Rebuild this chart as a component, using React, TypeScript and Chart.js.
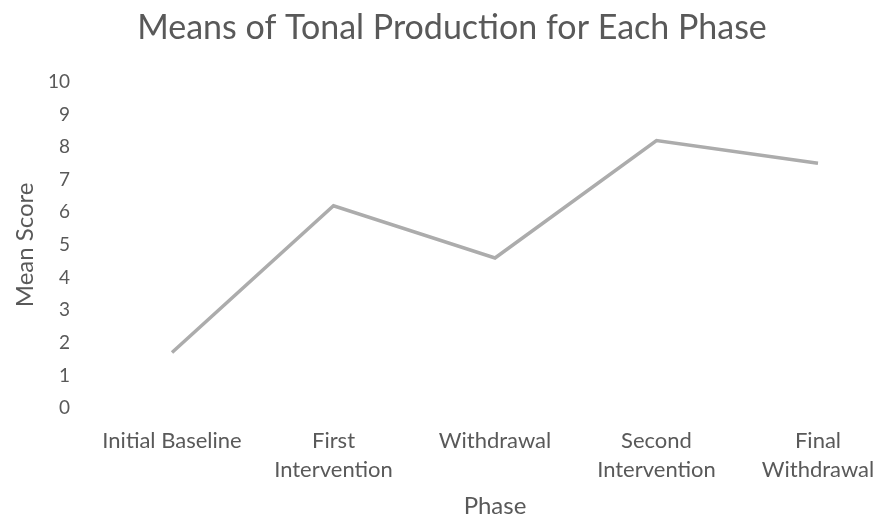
import React, { useEffect, useRef } from "react";
import { Chart, registerables } from "chart.js";

Chart.register(...registerables);

const categories: (string | string[])[] = [
  "Initial Baseline",
  ["First", "Intervention"],
  "Withdrawal",
  ["Second", "Intervention"],
  ["Final", "Withdrawal"],
];
const meanScores = [1.7, 6.2, 4.6, 8.2, 7.5];
const chartTitle = "Means of Tonal Production for Each Phase";
const xTitle = "Phase";
const yTitle = "Mean Score";

const FONT = "Lato, 'Open Sans', sans-serif";
const TEXT = "#595959";

export default function App() {
  const ref = useRef<HTMLCanvasElement>(null);
  useEffect(() => {
    if (!ref.current) return;
    const chart = new Chart(ref.current, {
      type: "line",
      data: {
        labels: categories,
        datasets: [
          {
            data: meanScores,
            borderColor: "#acacac",
            borderWidth: 3.5,
            pointRadius: 0,
            tension: 0,
            fill: false,
          },
        ],
      },
      options: {
        animation: false,
        responsive: false,
        layout: { padding: 0 },
        plugins: {
          legend: { display: false },
          tooltip: { enabled: false },
          title: {
            display: true,
            text: chartTitle,
            color: TEXT,
            font: { family: FONT, size: 34, weight: "normal", lineHeight: 1.2 },
            padding: { top: 8, bottom: 33 },
          },
        },
        scales: {
          x: {
            offset: false,
            grid: { display: false, drawTicks: false },
            border: { display: false },
            ticks: {
              color: TEXT,
              font: { family: FONT, size: 22, lineHeight: 1.32 },
              maxRotation: 0,
              minRotation: 0,
              autoSkip: false,
              padding: 18,
            },
            title: {
              display: true,
              text: xTitle,
              color: TEXT,
              font: { family: FONT, size: 24, lineHeight: 1.2 },
              padding: { top: 0, bottom: 0 },
            },
            afterFit: (s: any) => {
              s.height = 113;
              s.paddingLeft = 0;
              s.paddingRight = 86;
            },
          },
          y: {
            min: 0,
            max: 10,
            grid: { display: false, drawTicks: false },
            border: { display: false },
            ticks: {
              stepSize: 1,
              color: TEXT,
              font: { family: FONT, size: 19 },
              padding: 102,
            },
            title: {
              display: true,
              text: yTitle,
              color: TEXT,
              font: { family: FONT, size: 24, lineHeight: 1.2 },
              padding: { top: 11, bottom: 0 },
            },
            afterFit: (s: any) => {
              s.width = 172;
              s.paddingTop = 0;
              s.paddingBottom = 0;
            },
          },
        },
      },
    });
    return () => chart.destroy();
  }, []);
  return (
    <div
      style={{
        position: "absolute",
        left: 0,
        top: 0,
        width: 876,
        height: 521,
        overflow: "hidden",
        background: "#fff",
      }}
    >
      <canvas ref={ref} width={904} height={521} style={{ display: "block" }} />
    </div>
  );
}
